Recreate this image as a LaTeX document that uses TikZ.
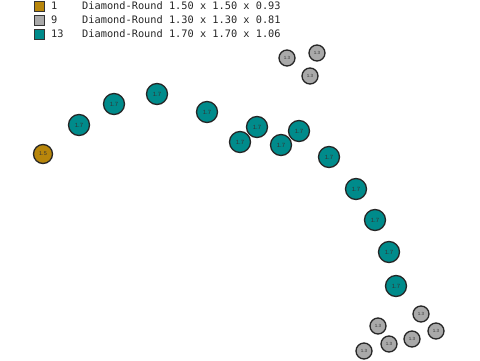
\documentclass[tikz,border=0pt]{standalone}
\usepackage{fontspec}
\setmainfont{Liberation Sans}
\newfontfamily\legfont{DejaVu Sans Mono}
\definecolor{cgold}{HTML}{B8860B}
\definecolor{cgray}{HTML}{A9A9A9}
\definecolor{cteal}{HTML}{008B8B}
\begin{document}
\begin{tikzpicture}[x=1pt,y=-1pt,
  big/.style={circle,draw=black!85,line width=1.3pt,fill=cteal,minimum size=21pt,inner sep=0pt,font=\fontsize{6}{6}\selectfont,text=black!80},
  mid/.style={circle,draw=black!85,line width=1.3pt,fill=cgold,minimum size=19pt,inner sep=0pt,font=\fontsize{5.5}{6}\selectfont,text=black!80},
  small/.style={circle,draw=black!85,line width=1.3pt,fill=cgray,minimum size=16pt,inner sep=0pt,font=\fontsize{4.5}{5}\selectfont,text=black!80},
  sq/.style={draw=black!80,line width=0.8pt,minimum size=10pt,inner sep=0pt},
  leg/.style={anchor=west,inner sep=0pt,font=\legfont\fontsize{10.3}{12}\selectfont,text=black!85}]
\useasboundingbox (0,0) rectangle (480,360);
% legend
\node[sq,fill=cgold] (s1) at (39,6) {};
\node[sq,fill=cgray] (s2) at (39,20) {};
\node[sq,fill=cteal] (s3) at (39,34) {};
\node[leg] (c1) at (51,6) {1};
\node[leg] (c2) at (51,20) {9};
\node[leg] (c3) at (51,34) {13};
\node[leg] (d1) at (82,6) {Diamond-Round 1.50 x 1.50 x 0.93};
\node[leg] (d2) at (82,20) {Diamond-Round 1.30 x 1.30 x 0.81};
\node[leg] (d3) at (82,34) {Diamond-Round 1.70 x 1.70 x 1.06};
% gold
\node[mid] (g1) at (43,154) {1.5};
% teal
\node[big] (t1) at (79,125) {1.7};
\node[big] (t2) at (114,104) {1.7};
\node[big] (t3) at (157,94) {1.7};
\node[big] (t4) at (207,112) {1.7};
\node[big] (t5) at (240,142) {1.7};
\node[big] (t6) at (257,127) {1.7};
\node[big] (t7) at (281,145) {1.7};
\node[big] (t8) at (299,131) {1.7};
\node[big] (t9) at (329,157) {1.7};
\node[big] (t10) at (356,189) {1.7};
\node[big] (t11) at (375,220) {1.7};
\node[big] (t12) at (389,252) {1.7};
\node[big] (t13) at (396,286) {1.7};
% gray
\node[small] (p1) at (287,58) {1.3};
\node[small] (p2) at (317,53) {1.3};
\node[small] (p3) at (310,76) {1.3};
\node[small] (p4) at (421,314) {1.3};
\node[small] (p5) at (378,326) {1.3};
\node[small] (p6) at (436,331) {1.3};
\node[small] (p7) at (412,339) {1.3};
\node[small] (p8) at (389,344) {1.3};
\node[small] (p9) at (364,351) {1.3};
\end{tikzpicture}
\end{document}
